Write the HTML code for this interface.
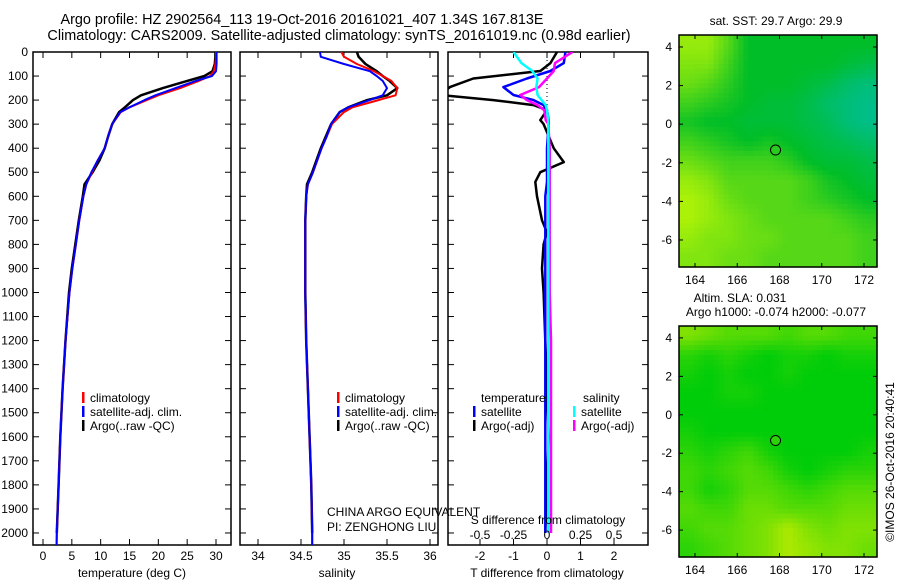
<!DOCTYPE html>
<html><head><meta charset="utf-8">
<style>
body{margin:0;background:#fff;}
svg{display:block;font-family:"Liberation Sans",sans-serif;font-size:12px;}
.ttl{font-size:14.4px;}
</style></head>
<body>
<svg id="fig" width="900" height="580" viewBox="0 0 900 580">
<text class="ttl" x="302" y="24" text-anchor="middle">Argo profile: HZ 2902564_113 19-Oct-2016 20161021_407 1.34S 167.813E</text>
<text class="ttl" x="339" y="40" text-anchor="middle">Climatology: CARS2009. Satellite-adjusted climatology: synTS_20161019.nc (0.98d earlier)</text>
<g id="g"></g>
</svg>
<script>
// ---------- data ----------
const depths = [0,20,50,80,100,120,150,180,200,230,250,300,350,400,450,500,550,600,700,800,900,1000,1200,1400,1600,1800,2000,2050];
const tempClim = [30.0,30.0,29.9,29.6,29.0,27,23.8,20,18,15,13.5,12,11.3,10.7,9.5,8.5,7.5,7,6.3,5.7,5.1,4.6,3.9,3.4,3.0,2.7,2.4,2.35];
const tempSat = [30.1,30.1,30.1,30.0,29.3,26.5,23,19.5,17.6,15,13.4,12,11.3,10.7,9.5,8.4,7.5,7,6.3,5.7,5.1,4.6,3.9,3.4,3.0,2.7,2.4,2.35];
const tempArgo = [29.9,29.9,29.8,29.4,28,25,20.8,17,15.6,14.2,13.2,12,11.3,10.7,9.8,8.6,7.2,6.9,6.2,5.6,5.0,4.5,3.9,3.4,3.0,2.7,2.4,2.4];
const salClim = [34.97,35.0,35.15,35.35,35.45,35.55,35.62,35.6,35.4,35.1,35.0,34.86,34.8,34.74,34.69,34.64,34.58,34.56,34.55,34.55,34.55,34.55,34.56,34.58,34.6,34.62,34.63,34.63];
const salSat = [34.72,34.73,35.0,35.3,35.38,35.45,35.5,35.45,35.3,35.05,34.95,34.85,34.8,34.74,34.69,34.64,34.58,34.56,34.55,34.55,34.55,34.55,34.56,34.58,34.6,34.62,34.63,34.63];
const salArgo = [35.15,35.17,35.25,35.38,35.45,35.53,35.62,35.5,35.27,35.05,34.95,34.85,34.79,34.73,34.68,34.63,34.57,34.56,34.55,34.55,34.55,34.55,34.56,34.58,34.6,34.62,34.63,34.63];
const diffDepths = [0,46,79,110,146,179,200,221,242,283,300,400,458,500,540,600,700,750,800,900,1000,1200,1400,1600,1800,2000];
const tDiffArgo = [0.3,0.1,-0.2,-2.2,-2.9,-3.2,-1.6,-0.4,0,-0.2,-0.1,0.2,0.5,-0.2,-0.35,-0.3,-0.15,0,-0.1,-0.15,-0.1,-0.05,0,0.05,0,-0.05];
const tDiffSat = [0.55,0.5,0.1,-0.6,-1.3,-1.0,-0.4,-0.1,0,0.05,0.05,0,0,0,0,-0.05,-0.05,-0.05,-0.05,-0.05,-0.05,-0.05,-0.05,-0.05,-0.05,-0.05];
const sDiffArgo = [0.19,0.06,0.05,0,-0.06,-0.2,-0.15,-0.07,-0.02,-0.01,0.01,0.02,0.02,0.02,0.02,0.02,0.02,0.02,0.02,0.02,0.02,0.03,0.03,0.03,0.03,0.03];
const sDiffSat = [-0.25,-0.19,-0.11,-0.07,-0.08,-0.07,-0.04,-0.01,0,0.01,0.01,0.01,0.01,0.01,0.01,0.01,0.01,0.01,0.01,0.01,0.01,0.01,0.01,0.01,0.01,0.01];
const depthTicks = [0,100,200,300,400,500,600,700,800,900,1000,1100,1200,1300,1400,1500,1600,1700,1800,1900,2000];
const tempTicks = [0,5,10,15,20,25,30];
const salTicks = [34,34.5,35,35.5,36];
const tDiffTicks = [-2,-1,0,1,2];
const sDiffTicks = [-0.5,-0.25,0,0.25,0.5];
const sDiffTickLabels = ["-0.5","-0.25","0","0.25","0.5"];
const lonTicks = [164,166,168,170,172];
const latTicks = [4,2,0,-2,-4,-6];
const sstGrid = [
[.15,.15,.3,.5,.5,.5,.5,.5,.5,.5],
[.2,.2,.35,.5,.5,.5,.5,.5,.55,.6],
[.25,.3,.4,.5,.5,.5,.55,.6,.7,.75],
[.35,.4,.45,.5,.55,.55,.6,.7,.75,.8],
[.45,.5,.5,.55,.55,.55,.6,.65,.75,.8],
[.35,.4,.45,.5,.45,.5,.55,.6,.65,.7],
[.25,.3,.35,.35,.35,.4,.5,.55,.55,.6],
[.15,.2,.3,.3,.3,.3,.35,.45,.5,.55],
[.1,.15,.25,.3,.3,.3,.35,.4,.45,.5],
[.1,.15,.2,.25,.3,.3,.3,.3,.35,.4],
[.15,.2,.2,.25,.25,.3,.3,.3,.3,.35],
[.2,.2,.25,.25,.3,.3,.3,.3,.3,.35]];
const slaGrid = [
[.2,.25,.3,.3,.3,.35,.3,.3,.35,.35],
[.4,.45,.4,.45,.5,.45,.45,.5,.45,.45],
[.45,.5,.45,.5,.5,.45,.5,.5,.5,.5],
[.5,.5,.45,.45,.5,.5,.5,.5,.5,.5],
[.5,.5,.5,.5,.5,.5,.5,.5,.5,.5],
[.45,.5,.5,.5,.5,.5,.5,.5,.5,.5],
[.4,.45,.4,.35,.45,.5,.5,.5,.5,.45],
[.35,.4,.35,.3,.35,.45,.5,.45,.4,.4],
[.35,.45,.4,.3,.3,.35,.4,.35,.3,.3],
[.3,.35,.35,.25,.25,.3,.3,.3,.25,.25],
[.35,.3,.3,.25,.2,.1,.2,.25,.2,.2],
[.4,.35,.3,.25,.2,.1,.15,.2,.2,.25]];

// ---------- helpers ----------
const NS="http://www.w3.org/2000/svg";
const G=document.getElementById('g');
function mk(tag,attrs,parent){const e=document.createElementNS(NS,tag);for(const k in attrs)e.setAttribute(k,attrs[k]);(parent||G).appendChild(e);return e;}
function txt(x,y,s,anchor,parent){const t=mk('text',{x:x,y:y,'text-anchor':anchor||'start'},parent);t.textContent=s;return t;}
const Y0=52,Y1=545;
const yD=d=>Y0+(d/2050)*(Y1-Y0);
function lin(v0,p0,v1,p1){return v=>p0+(v-v0)*(p1-p0)/(v1-v0);}

function panel(x0,x1,name){
  const r=mk('rect',{x:x0,y:Y0,width:x1-x0,height:Y1-Y0,fill:'none',stroke:'#000','stroke-width':1.5});
  
  
  depthTicks.forEach(d=>{
    mk('line',{x1:x0,x2:x0+6,y1:yD(d),y2:yD(d),stroke:'#000'});
    mk('line',{x1:x1-6,x2:x1,y1:yD(d),y2:yD(d),stroke:'#000'});
  });
}
function xticks(x0,x1,ticks,sx,labels,ly){
  ticks.forEach((t,i)=>{
    const x=sx(t);
    mk('line',{x1:x,x2:x,y1:Y0,y2:Y0+6,stroke:'#000'});
    mk('line',{x1:x,x2:x,y1:Y1-6,y2:Y1,stroke:'#000'});
    if(labels){const l=txt(x,ly,labels[i],'middle');
      
      }
  });
}
function legend(x,y,color,label){
  mk('rect',{x:x,y:y-10,width:2.5,height:11,fill:color});
  const t=txt(x+8,y,label);
  
  
}
function lineIn(g,xs,ds,sx,color,name,w){
  const pts=xs.map((v,i)=>sx(v).toFixed(1)+','+yD(ds[i]).toFixed(1)).join(' ');
  const p=mk('polyline',{points:pts,fill:'none',stroke:color,'stroke-width':w||2,'stroke-linejoin':'round'},g);
  
  
}

// y tick labels
depthTicks.forEach(d=>{const t=txt(28,yD(d)+4,String(d),'end');
  
  });

const clipDefs=mk('defs',{});
[[33,231,'c1'],[240,438,'c2'],[448,648,'c3']].forEach(c=>{const cp=mk('clipPath',{id:c[2]},clipDefs);mk('rect',{x:c[0],y:Y0,width:c[1]-c[0],height:Y1-Y0},cp);});

// ---- temperature panel ----
const sT=lin(0,43,30,216);
panel(33,231,'temperature-panel');
xticks(33,231,tempTicks,sT,tempTicks.map(String),560);
let gp=mk('g',{'clip-path':'url(#c1)'});
lineIn(gp,tempArgo.slice(0,27),depths.slice(0,27),sT,'#000','temp-argo-line',2.5);
lineIn(gp,tempClim,depths,sT,'#f00','temp-climatology-line');
lineIn(gp,tempSat,depths,sT,'#00f','temp-satellite-line');
legend(82,402,'#f00','climatology');legend(82,416,'#00f','satellite-adj. clim.');legend(82,430,'#000','Argo(..raw -QC)');
let t1=txt(132,577,'temperature (deg C)','middle');

// ---- salinity panel ----
const sS=lin(34,258,36,430);
panel(240,438,'salinity-panel');
xticks(240,438,salTicks,sS,['34','34.5','35','35.5','36'],560);
gp=mk('g',{'clip-path':'url(#c2)'});
lineIn(gp,salArgo.slice(0,27),depths.slice(0,27),sS,'#000','sal-argo-line',2.5);
lineIn(gp,salClim,depths,sS,'#f00','sal-climatology-line');
lineIn(gp,salSat,depths,sS,'#00f','sal-satellite-line');
legend(337,402,'#f00','climatology');legend(337,416,'#00f','satellite-adj. clim.');legend(337,430,'#000','Argo(..raw -QC)');
t1=txt(337,577,'salinity','middle');
t1=txt(327,516,'CHINA ARGO EQUIVALENT');
t1=txt(327,531,'PI: ZENGHONG LIU');

// ---- difference panel ----
const sTd=lin(0,547,2,614), sSd=lin(0,547,0.5,614);
panel(448,648,'difference-panel');
xticks(448,648,tDiffTicks,sTd,tDiffTicks.map(String),560);
mk('line',{x1:547,x2:547,y1:Y0,y2:yD(260),stroke:'#000','stroke-dasharray':'1,3'});
gp=mk('g',{'clip-path':'url(#c3)'});
lineIn(gp,tDiffArgo,diffDepths,sTd,'#000','tdiff-argo-line',2.5);
lineIn(gp,tDiffSat,diffDepths,sTd,'#00f','tdiff-satellite-line',2.5);
lineIn(gp,sDiffArgo,diffDepths,sSd,'#f0f','sdiff-argo-line',2.5);
lineIn(gp,sDiffSat,diffDepths,sSd,'#0ff','sdiff-satellite-line',2.5);
t1=txt(481,402,'temperature');
t1=txt(583,402,'salinity');
legend(473,416,'#00f','satellite');legend(473,430,'#000','Argo(-adj)');
legend(573,416,'#0ff','satellite');legend(573,430,'#f0f','Argo(-adj)');
t1=txt(548,524,'S difference from climatology','middle');
sDiffTicks.forEach((v,i)=>{const l=txt(sSd(v),539,sDiffTickLabels[i],'middle');});
t1=txt(547,577,'T difference from climatology','middle');

// ---- maps ----
function cmapSST(v){
  let r,g,b;
  if(v<0.5){const f=v/0.5;r=215*(1-f);g=255-(255-190)*f;b=0+40*f;}
  else{const f=(v-0.5)/0.5;r=0;g=190;b=40+160*f;}
  return `rgb(${r|0},${g|0},${b|0})`;
}
function cmapSLA(v){
  const f=Math.min(1,v/0.5);
  return `rgb(${(215*(1-f))|0},${(240-(240-205)*f)|0},${(0+10*f)|0})`;
}
function map(x0,y0,w,h,grid,cmap,name){
  const lonS=lin(164,695,172,864);
  const latTop=4.62,latBot=-7.4;
  const latS=lin(latTop,y0,latBot,y0+h);
  const g=mk('g',{});
  
  
  const R=grid.length,C=grid[0].length;
  const nr=48,nc=40;
  for(let i=0;i<nr;i++){for(let j=0;j<nc;j++){
    const fy=(i+0.5)/nr*R-0.5, fx=(j+0.5)/nc*C-0.5;
    const i0=Math.max(0,Math.min(R-1,Math.floor(fy))),i1=Math.min(R-1,i0+1);
    const j0=Math.max(0,Math.min(C-1,Math.floor(fx))),j1=Math.min(C-1,j0+1);
    const ay=Math.max(0,Math.min(1,fy-i0)),ax=Math.max(0,Math.min(1,fx-j0));
    const v=(grid[i0][j0]*(1-ax)+grid[i0][j1]*ax)*(1-ay)+(grid[i1][j0]*(1-ax)+grid[i1][j1]*ax)*ay;
    const cell=mk('rect',{x:(x0+j*w/nc).toFixed(2),y:(y0+i*h/nr).toFixed(2),width:(w/nc+0.6).toFixed(2),height:(h/nr+0.6).toFixed(2),fill:cmap(v)},g);
    
    
  }}
  mk('rect',{x:x0,y:y0,width:w,height:h,fill:'none',stroke:'#000','stroke-width':1.5});
  lonTicks.forEach(l=>{const x=lonS(l);mk('line',{x1:x,x2:x,y1:y0,y2:y0+4,stroke:'#000'});mk('line',{x1:x,x2:x,y1:y0+h-4,y2:y0+h,stroke:'#000'});
    const t=txt(x,y0+h+17,String(l),'middle');});
  latTicks.forEach(l=>{const y=latS(l);mk('line',{x1:x0,x2:x0+4,y1:y,y2:y,stroke:'#000'});mk('line',{x1:x0+w-4,x2:x0+w,y1:y,y2:y,stroke:'#000'});
    const t=txt(x0-7,y+4,String(l),'end');});
  const c=mk('circle',{cx:lonS(167.813),cy:latS(-1.34),r:5,fill:cmap(0.4),stroke:'#000','stroke-width':1});
  
  
}
map(679,35,198,232,sstGrid,cmapSST,'sst-map');
t1=txt(776,25,'sat. SST: 29.7  Argo: 29.9','middle');
map(679,326,198,231,slaGrid,cmapSLA,'sla-map');
t1=txt(740,302,'Altim. SLA: 0.031','middle');
t1=txt(776,316,'Argo h1000: -0.074  h2000: -0.077','middle');
t1=txt(0,0,'©IMOS 26-Oct-2016 20:40:41','middle');
t1.setAttribute('transform','translate(894,462) rotate(-90)');


</script>
</body></html>
